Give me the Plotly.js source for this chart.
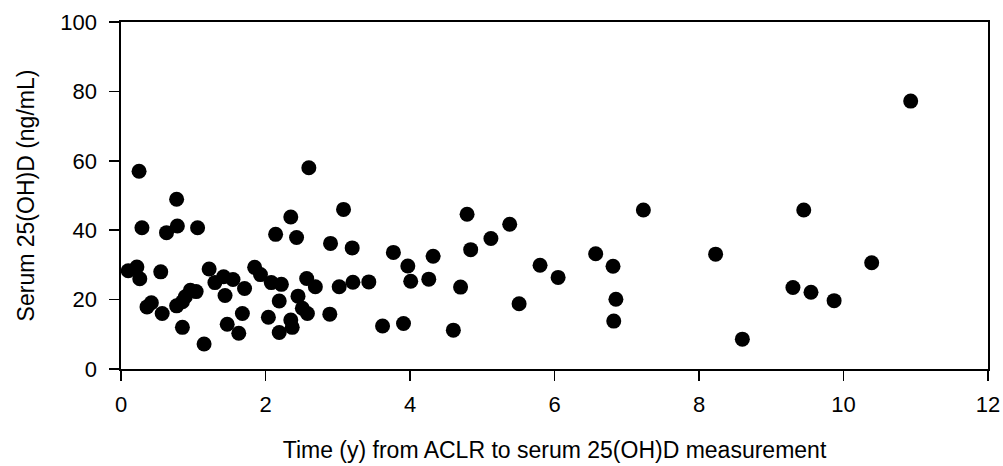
<!DOCTYPE html>
<html>
<head>
<meta charset="utf-8">
<script src="https://cdn.plot.ly/plotly-3.0.1.min.js"></script>
<style>html,body{margin:0;padding:0;background:#fff;}#chart{width:1003px;height:466px;}</style>
</head>
<body>
<div id="chart"></div>
<script>
// Time (years) from ACLR to serum 25(OH)D measurement
const timeYears = [
  0.25,0.77,0.29,0.63,0.78,1.06,0.10,0.22,0.26,0.55,0.36,0.42,0.57,0.77,0.85,0.89,0.96,1.04,0.85,1.15,
  1.22,1.30,1.42,1.55,1.44,1.71,1.47,1.68,1.63,1.85,1.93,2.08,2.04,
  2.60,3.08,2.35,2.14,2.43,2.90,3.20,3.77,4.32,3.97,2.22,2.57,2.69,3.02,3.21,3.43,4.01,4.26,2.45,2.19,
  2.51,2.58,2.89,2.35,2.37,2.19,3.62,3.91,4.60,
  4.79,5.38,5.12,4.84,5.80,6.05,6.57,6.81,6.85,6.82,7.23,4.70,5.51,
  10.93,9.45,8.23,10.39,9.30,9.55,9.87,8.60
];
// Serum 25(OH)D (ng/mL)
const serumVitD = [
  57.0,48.9,40.7,39.3,41.2,40.7,28.3,29.4,26.0,28.0,17.9,19.1,16.0,18.2,19.4,20.8,22.7,22.3,12.0,7.2,
  28.8,24.9,26.6,25.8,21.2,23.2,12.9,16.0,10.3,29.3,27.2,24.9,14.9,
  58.0,46.0,43.8,38.8,37.9,36.2,34.9,33.6,32.5,29.7,24.4,26.1,23.7,23.7,25.0,25.1,25.3,25.9,21.0,19.6,
  17.5,16.0,15.8,14.1,12.0,10.5,12.4,13.1,11.2,
  44.6,41.7,37.6,34.4,29.9,26.4,33.2,29.6,20.1,13.8,45.8,23.6,18.8,
  77.2,45.8,33.1,30.6,23.5,22.1,19.7,8.6
];
const xTicks = [0,2,4,6,8,10,12];
const yTicks = [0,20,40,60,80,100];

const FONT = 'Arial, "Liberation Sans", sans-serif';

Plotly.newPlot('chart', [{
  type: 'scatter',
  mode: 'markers',
  x: timeYears,
  y: serumVitD,
  marker: {color: '#000', size: 15, line: {width: 0}},
  hoverinfo: 'x+y'
}], {
  width: 1003,
  height: 466,
  margin: {l: 120.5, r: 15, t: 22, b: 97, pad: 0},
  paper_bgcolor: '#fff',
  plot_bgcolor: '#fff',
  showlegend: false,
  font: {family: FONT, color: '#000', size: 22},
  xaxis: {
    range: [0, 12],
    tickvals: xTicks,
    ticktext: xTicks.map(String),
    ticks: 'outside', ticklen: 10, tickwidth: 1.5, tickcolor: '#000',
    ticklabelstandoff: 5,
    showline: true, linecolor: '#000', linewidth: 1.7, mirror: true,
    showgrid: false, zeroline: false,
    tickfont: {family: FONT, size: 22, color: '#000'},
    title: {text: 'Time (y) from ACLR to serum 25(OH)D measurement', font: {family: FONT, size: 23, color: '#000'}, standoff: 26}
  },
  yaxis: {
    range: [0, 100],
    tickvals: yTicks,
    ticktext: yTicks.map(String),
    ticks: 'outside', ticklen: 10, tickwidth: 1.5, tickcolor: '#000',
    ticklabelstandoff: 8,
    showline: true, linecolor: '#000', linewidth: 1.7, mirror: true,
    showgrid: false, zeroline: false,
    tickfont: {family: FONT, size: 22, color: '#000'},
    title: {text: 'Serum 25(OH)D (ng/mL)', font: {family: FONT, size: 23, color: '#000'}, standoff: 19}
  }
}, {displayModeBar: false, staticPlot: true});
</script>
</body>
</html>
